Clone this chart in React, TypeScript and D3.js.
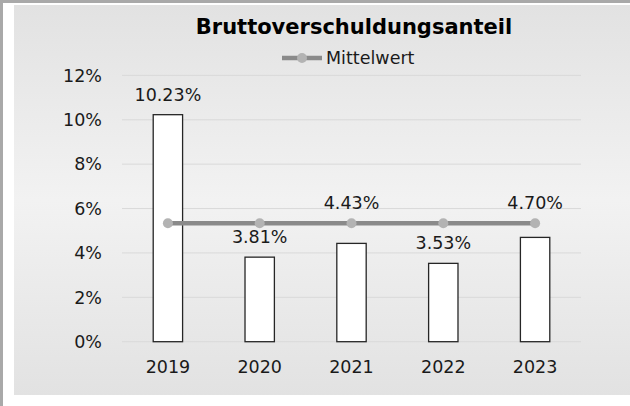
import React, { useEffect, useRef } from 'react';
import * as d3 from 'd3';

const years = ['2019', '2020', '2021', '2022', '2023'];
const shares = [10.23, 3.81, 4.43, 3.53, 4.7];
const yTicks = [0, 2, 4, 6, 8, 10, 12];
const title = 'Bruttoverschuldungsanteil';
const legendLabel = 'Mittelwert';

const W = 630;
const H = 406;

const App = () => {
  const ref = useRef<SVGSVGElement>(null);

  useEffect(() => {
    const svg = d3.select(ref.current);
    svg.selectAll('*').remove();

    const font = '"DejaVu Sans", Verdana, sans-serif';
    const plot = { left: 122, right: 581, top: 75.4, bottom: 341.7 };

    // background + frame
    const defs = svg.append('defs');
    const grad = defs.append('linearGradient')
      .attr('id', 'bg')
      .attr('x1', 0).attr('y1', 0).attr('x2', 0).attr('y2', 1);
    grad.append('stop').attr('offset', '0%').attr('stop-color', '#e2e2e2');
    grad.append('stop').attr('offset', '50%').attr('stop-color', '#f2f2f2');
    grad.append('stop').attr('offset', '100%').attr('stop-color', '#e2e2e2');

    svg.append('rect').attr('width', W).attr('height', H).attr('fill', '#ffffff');
    svg.append('rect')
      .attr('x', 14).attr('y', 5)
      .attr('width', W - 14).attr('height', 390)
      .attr('fill', 'url(#bg)');
    svg.append('rect').attr('x', 0).attr('y', 0).attr('width', W).attr('height', 3).attr('fill', '#a9a9a9');
    svg.append('rect').attr('x', 0).attr('y', 0).attr('width', 3).attr('height', H).attr('fill', '#a9a9a9');

    const x = d3.scaleBand<string>()
      .domain(years)
      .range([plot.left, plot.right])
      .padding(0);
    const y = d3.scaleLinear()
      .domain([0, 12])
      .range([plot.bottom, plot.top]);

    const barW = x.bandwidth() * 0.32;
    const mean = d3.mean(shares) as number;
    const meanY = y(mean);

    // gridlines
    svg.append('g')
      .selectAll('line')
      .data(yTicks)
      .enter()
      .append('line')
      .attr('x1', plot.left)
      .attr('x2', plot.right)
      .attr('y1', d => y(d))
      .attr('y2', d => y(d))
      .attr('stroke', '#d9d9d9')
      .attr('stroke-width', 1);

    // y tick labels
    svg.append('g')
      .selectAll('text')
      .data(yTicks)
      .enter()
      .append('text')
      .attr('x', 102)
      .attr('y', d => y(d) + 6.3)
      .attr('text-anchor', 'end')
      .style('font-family', font)
      .style('font-size', '17.5px')
      .attr('fill', '#1a1a1a')
      .text(d => `${d}%`);

    // bars
    svg.append('g')
      .selectAll('rect')
      .data(shares)
      .enter()
      .append('rect')
      .attr('x', (d, i) => (x(years[i]) as number) + x.bandwidth() / 2 - barW / 2)
      .attr('y', d => y(d))
      .attr('width', barW)
      .attr('height', d => plot.bottom - y(d))
      .attr('fill', '#ffffff')
      .attr('stroke', '#262626')
      .attr('stroke-width', 1.3);

    // x labels
    svg.append('g')
      .selectAll('text')
      .data(years)
      .enter()
      .append('text')
      .attr('x', d => (x(d) as number) + x.bandwidth() / 2)
      .attr('y', 373)
      .attr('text-anchor', 'middle')
      .style('font-family', font)
      .style('font-size', '17.5px')
      .attr('fill', '#1a1a1a')
      .text(d => d);

    // mean line
    const cx = (i: number) => (x(years[i]) as number) + x.bandwidth() / 2;
    svg.append('line')
      .attr('x1', cx(0)).attr('x2', cx(years.length - 1))
      .attr('y1', meanY).attr('y2', meanY)
      .attr('stroke', '#8a8a8a')
      .attr('stroke-width', 4.5);
    svg.append('g')
      .selectAll('circle')
      .data(years)
      .enter()
      .append('circle')
      .attr('cx', (d, i) => cx(i))
      .attr('cy', meanY)
      .attr('r', 5)
      .attr('fill', '#b3b3b3');

    // data labels (lifted above the mean line when they would collide)
    svg.append('g')
      .selectAll('text')
      .data(shares)
      .enter()
      .append('text')
      .attr('x', (d, i) => cx(i))
      .attr('y', d => {
        const base = y(d) - 14;
        return Math.abs(base - 6 - meanY) < 12 ? meanY - 14 : base;
      })
      .attr('text-anchor', 'middle')
      .style('font-family', font)
      .style('font-size', '17.5px')
      .attr('fill', '#1a1a1a')
      .text(d => `${d.toFixed(2)}%`);

    // title
    svg.append('text')
      .attr('x', 354)
      .attr('y', 34)
      .attr('text-anchor', 'middle')
      .style('font-family', font)
      .style('font-size', '21px')
      .style('font-weight', 'bold')
      .attr('fill', '#000000')
      .text(title);

    // legend
    const lg = svg.append('g').attr('transform', 'translate(282,58)');
    lg.append('line')
      .attr('x1', 0).attr('x2', 40)
      .attr('y1', 0).attr('y2', 0)
      .attr('stroke', '#8a8a8a')
      .attr('stroke-width', 4.5);
    lg.append('circle').attr('cx', 20).attr('cy', 0).attr('r', 5).attr('fill', '#b3b3b3');
    lg.append('text')
      .attr('x', 44)
      .attr('y', 6.3)
      .style('font-family', font)
      .style('font-size', '17.5px')
      .attr('fill', '#1a1a1a')
      .text(legendLabel);
  }, []);

  return (
    <svg
      ref={ref}
      width={W}
      height={H}
      style={{ position: 'absolute', left: 0, top: 0, display: 'block' }}
    />
  );
};

export default App;
